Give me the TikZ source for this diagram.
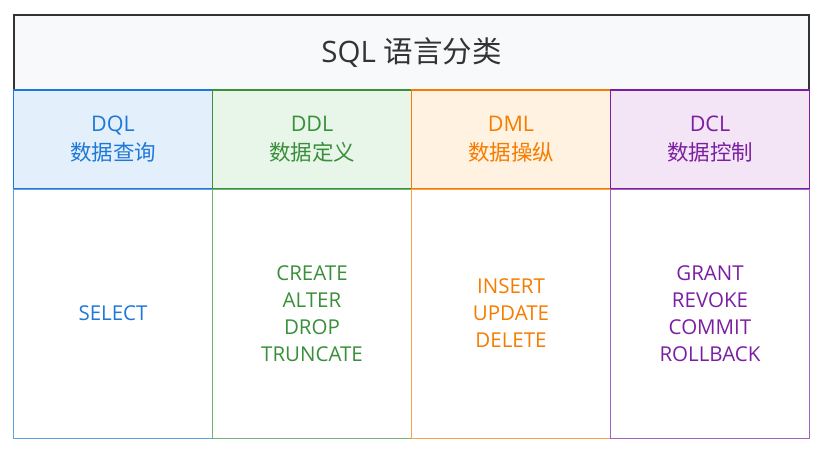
\documentclass[tikz,border=0pt]{standalone}
\usepackage{fontspec}
\setmainfont{Open Sans}
\newfontfamily\cjk{Noto Sans CJK SC}
\definecolor{tborder}{HTML}{333333}
\definecolor{tfill}{HTML}{F8F9FA}
\definecolor{tq}{HTML}{1E78D8}
\definecolor{fq}{HTML}{E3F0FC}
\definecolor{td}{HTML}{3A8F3A}
\definecolor{fd}{HTML}{E8F5E9}
\definecolor{tm}{HTML}{F57C00}
\definecolor{fm}{HTML}{FFF2E0}
\definecolor{tc}{HTML}{7B1FA2}
\definecolor{fc}{HTML}{F3E5F5}
\tikzset{
  titlebox/.style={draw=tborder,fill=tfill,line width=1.6pt,minimum width=795pt,minimum height=75pt,inner sep=0pt,text=black!80,font=\fontsize{29.5}{34}\selectfont},
  headbox/.style={draw=#1,line width=1.6pt,minimum width=199pt,minimum height=99pt,inner sep=0pt,text=#1,align=center,font=\fontsize{21.5}{29}\selectfont},
  bodybox/.style={draw=#1!70,line width=0.9pt,minimum width=199pt,minimum height=249pt,inner sep=0pt,text=#1,align=center,font=\fontsize{20.5}{27}\selectfont}
}
\begin{document}
\begin{tikzpicture}[x=1pt,y=-1pt]
\useasboundingbox (0,0) rectangle (826,453);
\node[titlebox] (title) at (411.5,52.5) {SQL {\cjk 语言分类}};
\node[headbox=tq,fill=fq] (hq) at (113,139.5) {DQL\\{\cjk 数据查询}};
\node[headbox=td,fill=fd] (hd) at (312,139.5) {DDL\\{\cjk 数据定义}};
\node[headbox=tm,fill=fm] (hm) at (511,139.5) {DML\\{\cjk 数据操纵}};
\node[headbox=tc,fill=fc] (hc) at (710,139.5) {DCL\\{\cjk 数据控制}};
\node[bodybox=tq] (bq) at (113,313.5) {SELECT};
\node[bodybox=td] (bd) at (312,313.5) {CREATE\\ALTER\\DROP\\TRUNCATE};
\node[bodybox=tm] (bm) at (511,313.5) {INSERT\\UPDATE\\DELETE};
\node[bodybox=tc] (bc) at (710,313.5) {GRANT\\REVOKE\\COMMIT\\ROLLBACK};
\end{tikzpicture}
\end{document}
